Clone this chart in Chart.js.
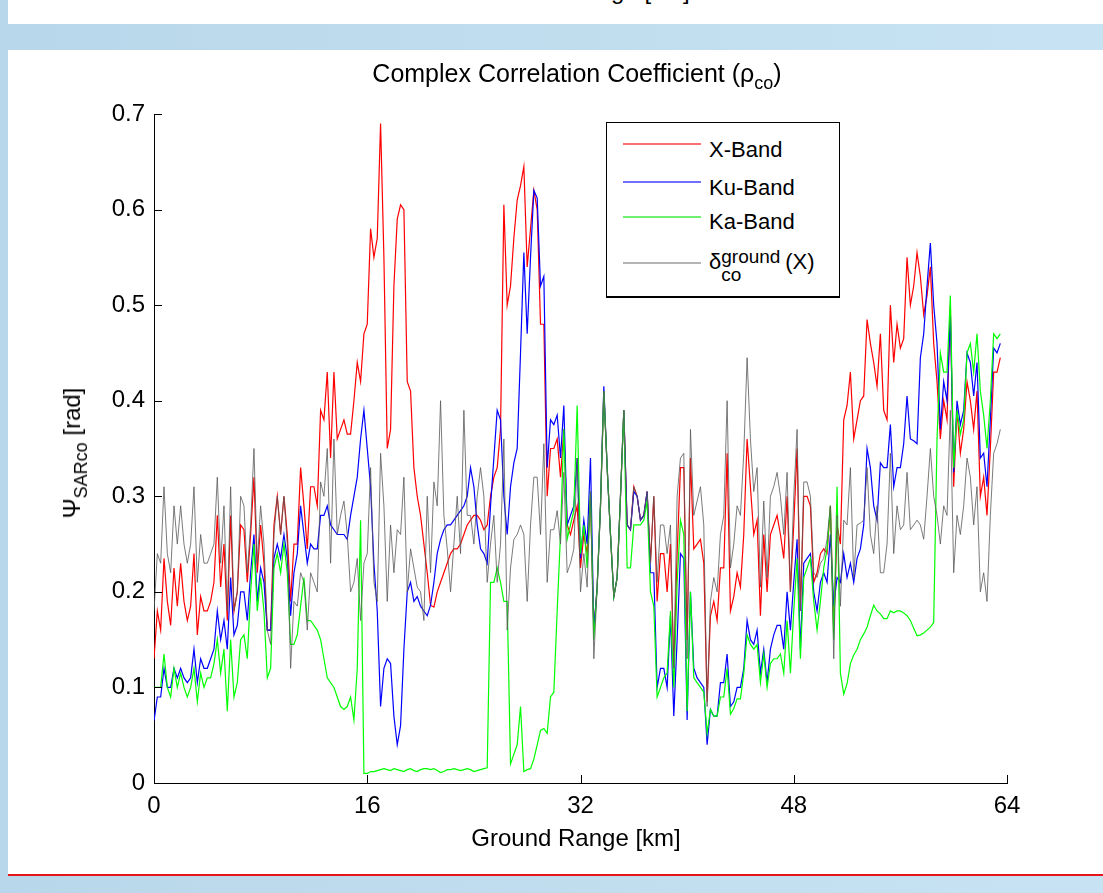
<!DOCTYPE html>
<html>
<head>
<meta charset="utf-8">
<title>Complex Correlation Coefficient</title>
<script src="https://cdn.jsdelivr.net/npm/chart.js@4.4.1/dist/chart.umd.min.js"></script>
<style>
    body {
        margin: 0;
        width: 1103px;
        height: 893px;
        overflow: hidden;
        position: relative;
        background: linear-gradient(90deg, #b9d7ea, #c7e3f3);
        font-family: "Liberation Sans", Arial, sans-serif;
        color: #000;
    }
    .panel { position: absolute; background: #fff; }
    #topStrip { left: 8px; top: 0; width: 1095px; height: 24px; overflow: hidden; }
    #mainPanel { left: 8px; top: 50px; width: 1095px; height: 824px; }
    #redRule { position: absolute; left: 8px; top: 874px; width: 1095px; height: 2px; background: #e8141c; }
    #chartCanvas { position: absolute; left: 0; top: 0; }
    .txt { position: absolute; white-space: nowrap; font-size: 24px; line-height: 24px; }
    .center { transform: translateX(-50%); }
    sub.s { font-size: 18px; vertical-align: -7px; line-height: 0; }
    #legendBox {
        position: absolute; left: 606px; top: 122px; width: 232px; height: 173px;
        border: 1px solid #000; border-bottom-width: 2px; background: #fff;
    }
    .legLine { position: absolute; left: 16px; width: 78px; height: 2px; }
    .legText { position: absolute; left: 102px; font-size: 22px; line-height: 22px; white-space: nowrap; }
    .stack { display: inline-block; position: relative; width: 64px; height: 22px; vertical-align: top; }
    .stack span { position: absolute; left: 0; font-size: 19px; line-height: 19px; }
</style>
</head>
<body>
<div id="topStrip" class="panel">
    <div class="txt center" style="left: 577px; top: -21px;">Ground Range [km]</div>
</div>
<div id="mainPanel" class="panel"></div>
<div id="redRule"></div>

<canvas id="chartCanvas" width="1103" height="893"></canvas>

<div class="txt center" style="left: 577px; top: 61px; font-size: 25px;">Complex Correlation Coefficient (&rho;<sub class="s">co</sub>)</div>
<div class="txt center" style="left: 576px; top: 826px;">Ground Range [km]</div>
<div class="txt" style="left: 72px; top: 453px; transform: translate(-50%, -50%) rotate(-90deg);">&Psi;<sub class="s">SARco</sub> [rad]</div>

<div id="legendBox">
    <div class="legLine" style="top: 20px; background: #ff7070;"></div>
    <div class="legText" style="top: 16px;">X-Band</div>
    <div class="legLine" style="top: 58px; background: #7070ff;"></div>
    <div class="legText" style="top: 54px;">Ku-Band</div>
    <div class="legLine" style="top: 93px; background: #70f070;"></div>
    <div class="legText" style="top: 88px;">Ka-Band</div>
    <div class="legLine" style="top: 139px; background: #b4b4b4;"></div>
    <div class="legText" style="top: 128px;">&delta;<span class="stack"><span style="top: -4px;">ground</span><span style="top: 14px;">co</span></span>(X)</div>
</div>

<script>
// Ground range sampling and axis ticks
const stepKm = 0.25;
const xTicks = [0, 16, 32, 48, 64];
const yTicks = [0, 0.1, 0.2, 0.3, 0.4, 0.5, 0.6, 0.7];
const yTickLabels = ['0', '0.1', '0.2', '0.3', '0.4', '0.5', '0.6', '0.7'];

// X-Band
const xBand = [
    0.13,0.18,0.16,0.235,0.19,0.165,0.225,0.185,0.23,0.19,0.17,0.185,0.24,0.155,0.195,0.18,0.18,0.19,0.21,0.28,0.205,0.25,0.17,0.28,0.18,0.20,0.27,0.265,0.21,0.26,0.32,0.22,0.27,0.23,
    0.16,0.16,0.27,0.30,0.26,0.30,0.26,0.19,0.25,0.25,0.33,0.29,0.245,0.31,0.31,0.29,0.39,0.38,0.43,0.34,0.43,0.36,0.37,0.38,0.365,0.365,0.40,0.44,0.42,0.47,0.48,0.58,0.55,
    0.57,0.69,0.55,0.35,0.37,0.52,0.59,0.605,0.60,0.42,0.41,0.33,0.30,0.28,0.25,0.22,0.186,0.184,0.20,0.21,0.22,0.23,0.24,0.245,0.245,0.25,0.26,0.27,0.275,0.28,0.28,0.275,0.265,
    0.27,0.30,0.32,0.33,0.37,0.605,0.50,0.52,0.57,0.61,0.625,0.645,0.54,0.58,0.62,0.60,0.48,0.48,0.30,0.35,0.35,0.36,0.32,0.37,0.27,0.26,0.275,0.29,0.225,0.26,0.24,0.30,0.16,
    0.205,0.29,0.41,0.33,0.26,0.195,0.215,0.30,0.39,0.27,0.265,0.31,0.30,0.275,0.28,0.305,0.23,0.30,0.19,0.24,0.24,0.20,0.25,0.12,0.24,0.33,0.33,0.15,0.34,0.245,0.25,0.255,0.23,
    0.085,0.175,0.19,0.17,0.225,0.225,0.345,0.18,0.195,0.22,0.205,0.26,0.36,0.31,0.26,0.275,0.175,0.26,0.20,0.26,0.27,0.28,0.26,0.235,0.30,0.20,0.27,0.35,0.18,0.30,0.30,0.29,0.21,
    0.22,0.24,0.245,0.24,0.29,0.16,0.27,0.25,0.38,0.395,0.43,0.36,0.38,0.40,0.405,0.485,0.46,0.44,0.415,0.47,0.39,0.38,0.50,0.44,0.48,0.455,0.465,0.55,0.50,0.52,0.555,0.53,0.49,
    0.51,0.54,0.46,0.42,0.36,0.40,0.38,0.50,0.31,0.39,0.345,0.37,0.42,0.40,0.37,0.41,0.30,0.32,0.28,0.35,0.43,0.43,0.445
];

// Ku-Band
const kuBand = [
    0.065,0.09,0.09,0.12,0.10,0.10,0.12,0.11,0.12,0.11,0.105,0.11,0.14,0.105,0.13,0.12,0.12,0.13,0.14,0.18,0.15,0.17,0.14,0.215,0.155,0.165,0.20,0.20,0.17,0.22,0.26,0.19,0.225,0.21,
    0.16,0.16,0.235,0.25,0.235,0.26,0.235,0.175,0.22,0.24,0.29,0.26,0.23,0.25,0.245,0.245,0.28,0.28,0.29,0.27,0.265,0.26,0.26,0.26,0.255,0.28,0.30,0.32,0.36,0.39,0.35,0.31,0.23,
    0.18,0.08,0.12,0.13,0.125,0.07,0.04,0.06,0.14,0.20,0.21,0.19,0.195,0.185,0.18,0.175,0.186,0.21,0.24,0.255,0.265,0.27,0.27,0.275,0.28,0.285,0.29,0.30,0.33,0.31,0.27,0.245,0.24,
    0.23,0.29,0.34,0.39,0.38,0.30,0.26,0.31,0.335,0.35,0.45,0.555,0.47,0.55,0.62,0.612,0.52,0.53,0.33,0.38,0.375,0.385,0.34,0.395,0.27,0.28,0.29,0.34,0.235,0.275,0.25,0.34,0.16,
    0.205,0.29,0.415,0.33,0.26,0.195,0.215,0.30,0.39,0.27,0.265,0.305,0.30,0.275,0.28,0.305,0.22,0.22,0.10,0.12,0.12,0.10,0.175,0.07,0.15,0.24,0.235,0.066,0.20,0.12,0.11,0.105,0.10,
    0.04,0.077,0.07,0.07,0.105,0.105,0.135,0.08,0.085,0.10,0.10,0.12,0.17,0.15,0.145,0.16,0.115,0.14,0.105,0.14,0.155,0.165,0.165,0.14,0.20,0.16,0.21,0.255,0.14,0.23,0.235,0.24,0.20,
    0.18,0.21,0.22,0.21,0.26,0.185,0.215,0.21,0.24,0.215,0.23,0.21,0.235,0.245,0.27,0.35,0.33,0.29,0.275,0.335,0.33,0.33,0.375,0.31,0.33,0.33,0.355,0.405,0.36,0.358,0.355,0.445,0.47,
    0.52,0.565,0.50,0.46,0.37,0.42,0.40,0.49,0.325,0.40,0.375,0.39,0.45,0.44,0.405,0.44,0.34,0.345,0.31,0.38,0.455,0.45,0.46
];

// Ka-Band
const kaBand = [
    0.10,0.10,0.10,0.135,0.10,0.09,0.12,0.10,0.115,0.10,0.09,0.10,0.12,0.085,0.115,0.10,0.11,0.11,0.125,0.15,0.115,0.14,0.075,0.15,0.09,0.105,0.15,0.155,0.13,0.20,0.25,0.18,0.215,0.18,
    0.11,0.12,0.225,0.24,0.22,0.25,0.22,0.145,0.145,0.155,0.185,0.215,0.17,0.17,0.165,0.16,0.15,0.13,0.11,0.105,0.10,0.09,0.08,0.077,0.08,0.09,0.066,0.12,0.275,0.01,0.01,0.012,0.012,
    0.013,0.014,0.015,0.014,0.013,0.015,0.014,0.013,0.012,0.014,0.015,0.013,0.012,0.014,0.015,0.015,0.014,0.015,0.013,0.011,0.012,0.014,0.014,0.015,0.014,0.013,0.014,0.015,0.014,0.012,0.013,0.014,0.015,
    0.016,0.21,0.21,0.225,0.21,0.19,0.19,0.02,0.03,0.04,0.08,0.012,0.014,0.015,0.025,0.04,0.055,0.057,0.052,0.09,0.095,0.18,0.26,0.37,0.255,0.27,0.285,0.395,0.24,0.27,0.225,0.305,0.15,
    0.205,0.29,0.41,0.33,0.26,0.195,0.215,0.30,0.39,0.225,0.225,0.27,0.27,0.27,0.275,0.295,0.20,0.185,0.09,0.10,0.11,0.115,0.18,0.10,0.21,0.275,0.26,0.075,0.20,0.11,0.105,0.10,0.095,
    0.052,0.077,0.07,0.07,0.09,0.09,0.12,0.072,0.078,0.088,0.088,0.115,0.155,0.145,0.14,0.145,0.105,0.135,0.10,0.125,0.13,0.13,0.135,0.115,0.17,0.115,0.18,0.235,0.13,0.215,0.225,0.235,0.19,
    0.16,0.19,0.225,0.245,0.29,0.15,0.31,0.115,0.093,0.104,0.125,0.134,0.14,0.15,0.156,0.163,0.175,0.186,0.18,0.177,0.172,0.172,0.18,0.178,0.18,0.18,0.178,0.175,0.17,0.162,0.154,0.155,0.157,
    0.16,0.163,0.168,0.36,0.45,0.43,0.43,0.51,0.33,0.39,0.365,0.38,0.45,0.46,0.43,0.47,0.41,0.385,0.35,0.40,0.47,0.465,0.47
];

// delta_co ground (X)
const deltaGround = [
    0.18,0.24,0.23,0.31,0.24,0.22,0.29,0.25,0.29,0.25,0.23,0.25,0.31,0.21,0.26,0.23,0.23,0.24,0.25,0.32,0.23,0.29,0.18,0.31,0.18,0.20,0.30,0.29,0.22,0.27,0.35,0.23,0.29,0.25,
    0.16,0.145,0.26,0.30,0.26,0.30,0.25,0.12,0.19,0.185,0.22,0.21,0.16,0.22,0.21,0.20,0.315,0.30,0.35,0.23,0.36,0.26,0.28,0.295,0.26,0.20,0.21,0.235,0.17,0.23,0.24,0.33,0.21,
    0.19,0.345,0.29,0.19,0.27,0.22,0.265,0.26,0.32,0.20,0.245,0.225,0.205,0.20,0.17,0.30,0.22,0.315,0.29,0.40,0.28,0.245,0.20,0.25,0.30,0.24,0.39,0.28,0.28,0.25,0.30,0.33,0.30,
    0.21,0.25,0.28,0.21,0.25,0.36,0.16,0.225,0.255,0.26,0.27,0.26,0.19,0.27,0.32,0.32,0.26,0.355,0.21,0.265,0.265,0.285,0.25,0.325,0.22,0.23,0.245,0.34,0.20,0.24,0.205,0.305,0.13,
    0.205,0.29,0.41,0.33,0.26,0.195,0.215,0.30,0.39,0.27,0.265,0.31,0.30,0.275,0.28,0.305,0.23,0.30,0.21,0.27,0.27,0.24,0.27,0.12,0.30,0.34,0.345,0.13,0.37,0.28,0.295,0.31,0.27,
    0.08,0.19,0.215,0.20,0.26,0.28,0.40,0.225,0.25,0.29,0.28,0.345,0.445,0.36,0.305,0.33,0.205,0.295,0.215,0.30,0.31,0.325,0.30,0.26,0.325,0.20,0.30,0.37,0.18,0.315,0.315,0.30,0.22,
    0.215,0.23,0.235,0.255,0.29,0.13,0.28,0.185,0.275,0.27,0.33,0.215,0.27,0.272,0.275,0.33,0.26,0.24,0.29,0.22,0.22,0.25,0.345,0.24,0.29,0.265,0.27,0.325,0.265,0.27,0.275,0.27,0.255,
    0.30,0.35,0.30,0.28,0.25,0.29,0.28,0.39,0.22,0.28,0.26,0.29,0.34,0.32,0.27,0.31,0.20,0.22,0.19,0.28,0.345,0.355,0.37
];

const rangeKm = xBand.map((_, i) => i * stepKm);
const toPoints = (values) => values.map((v, i) => ({ x: rangeKm[i], y: v }));

// MATLAB-style inward tick marks
const inwardTicks = {
    id: 'inwardTicks',
    afterDraw(chart) {
        const { ctx, chartArea, scales } = chart;
        const len = 8;
        ctx.save();
        ctx.strokeStyle = '#000';
        ctx.lineWidth = 1;
        ctx.beginPath();
        yTicks.forEach(v => {
            const y = Math.round(scales.y.getPixelForValue(v)) + 0.5;
            ctx.moveTo(chartArea.left, y);
            ctx.lineTo(chartArea.left + len, y);
        });
        xTicks.forEach(v => {
            const x = Math.round(scales.x.getPixelForValue(v)) + 0.5;
            ctx.moveTo(x, chartArea.bottom);
            ctx.lineTo(x, chartArea.bottom - len);
        });
        ctx.stroke();
        ctx.restore();
    }
};

const tickFont = { family: '"Liberation Sans", Arial, sans-serif', size: 24 };

new Chart(document.getElementById('chartCanvas'), {
    type: 'line',
    data: {
        datasets: [
            { label: 'X-Band', data: toPoints(xBand), borderColor: '#ff0000', order: 3 },
            { label: 'Ku-Band', data: toPoints(kuBand), borderColor: '#0000ff', order: 2 },
            { label: 'Ka-Band', data: toPoints(kaBand), borderColor: '#00ff00', order: 1 },
            { label: 'delta ground (X)', data: toPoints(deltaGround), borderColor: 'rgba(90, 90, 90, 0.8)', borderWidth: 1, order: 0 }
        ]
    },
    options: {
        responsive: false,
        animation: false,
        layout: { padding: { top: 114, right: 96, bottom: 70, left: 0 } },
        elements: {
            point: { radius: 0 },
            line: { borderWidth: 1.2, tension: 0 }
        },
        plugins: {
            legend: { display: false },
            title: { display: false },
            tooltip: { enabled: false }
        },
        scales: {
            x: {
                type: 'linear',
                min: 0,
                max: 64,
                afterBuildTicks: (scale) => { scale.ticks = xTicks.map(v => ({ value: v })); },
                afterFit: (scale) => { scale.height = 40; },
                grid: { display: false, drawTicks: false },
                border: { display: true, color: '#000', width: 1 },
                ticks: { color: '#000', font: tickFont, padding: 9, maxRotation: 0, callback: (v) => String(v) }
            },
            y: {
                type: 'linear',
                min: 0,
                max: 0.7,
                afterBuildTicks: (scale) => { scale.ticks = yTicks.map(v => ({ value: v })); },
                afterFit: (scale) => { scale.width = 154; },
                grid: { display: false, drawTicks: false },
                border: { display: true, color: '#000', width: 1 },
                ticks: { color: '#000', font: tickFont, padding: 9, callback: (v, i) => yTickLabels[i] }
            }
        }
    },
    plugins: [inwardTicks]
});
</script>
</body>
</html>
